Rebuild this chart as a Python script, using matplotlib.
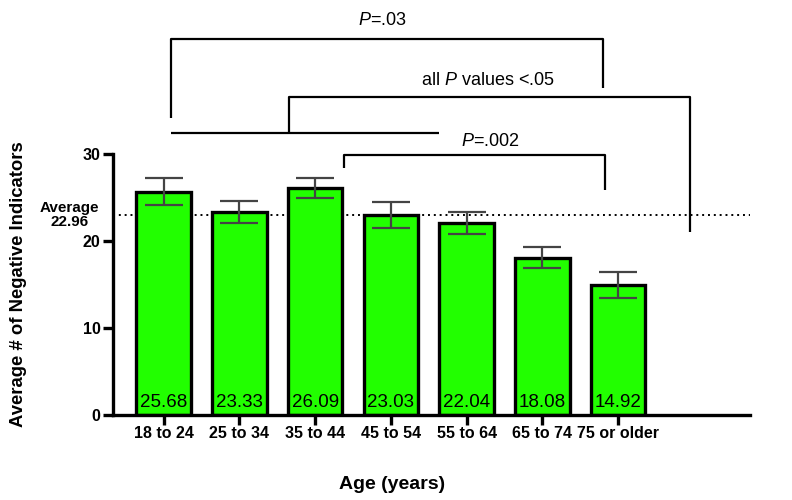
import numpy as np
import matplotlib.pyplot as plt

plt.rcParams['font.family'] = ['Liberation Sans', 'DejaVu Sans']
plt.rcParams['mathtext.fontset'] = 'custom'
plt.rcParams['mathtext.rm'] = 'Liberation Sans'
plt.rcParams['mathtext.it'] = 'Liberation Sans:italic'

# data
age_groups = ['18 to 24', '25 to 34', '35 to 44', '45 to 54', '55 to 64', '65 to 74', '75 or older']
means = [25.68, 23.33, 26.09, 23.03, 22.04, 18.08, 14.92]
sem = [1.55, 1.27, 1.2, 1.5, 1.25, 1.2, 1.5]
overall_avg = 22.96

fig = plt.figure(figsize=(7.92, 5.0), dpi=100)
ax = fig.add_axes([0.1427, 0.17, 0.804, 0.522])

x = np.arange(len(age_groups))
ax.bar(x, means, width=0.72, color='#22ff00', edgecolor='black', linewidth=2.4, zorder=2)
ax.errorbar(x, means, yerr=sem, fmt='none', ecolor='#444444', elinewidth=1.6,
            capsize=14, capthick=1.6, zorder=3)

for xi, m in zip(x, means):
    ax.text(xi, 0.5, f'{m:.2f}', ha='center', va='bottom', fontsize=13.5, zorder=4)

# overall average line
ax.axhline(overall_avg, color='black', linestyle=(0, (1, 2)), linewidth=1.4, zorder=1)
ax.text(-0.068, overall_avg, 'Average\n22.96', transform=ax.get_yaxis_transform(),
        ha='center', va='center', fontsize=11, fontweight='bold', linespacing=1.0)

ax.set_xlim(-0.67, 7.74)
ax.set_ylim(0, 30)
ax.set_yticks([0, 10, 20, 30])
ax.set_xticks(x)
ax.set_xticklabels(age_groups)

for side in ['top', 'right']:
    ax.spines[side].set_visible(False)
for side in ['left', 'bottom']:
    ax.spines[side].set_linewidth(2.4)
ax.tick_params(axis='both', width=2.4, length=7, labelsize=11.5, pad=2)
ax.tick_params(axis='x', pad=1)
for lab in ax.get_xticklabels() + ax.get_yticklabels():
    lab.set_fontweight('bold')

ax.set_ylabel('Average # of Negative Indicators', fontsize=13.3, fontweight='bold')
ax.yaxis.set_label_coords(-0.135, 0.5)
ax.set_xlabel('Age (years)', fontsize=14, fontweight='bold')
ax.xaxis.set_label_coords(0.438, -0.235)

# significance brackets: (x-points, y-points) in data coordinates
brackets = [
    ([0.09, 0.09, 5.80, 5.80], [34.1, 43.2, 43.2, 37.6]),
    ([0.09, 3.63], [32.4, 32.4]),
    ([1.66, 1.66, 6.95, 6.95], [32.4, 36.6, 36.6, 21.0]),
    ([2.38, 2.38, 5.83, 5.83], [28.4, 29.9, 29.9, 25.9]),
]
for bx, by in brackets:
    ax.plot(bx, by, color='black', linewidth=1.6, clip_on=False, solid_capstyle='butt')

ax.text(2.89, 45.4, r'$P$=.03', ha='center', va='center', fontsize=13)
ax.text(4.28, 38.5, r'all $P$ values <.05', ha='center', va='center', fontsize=13)
ax.text(4.31, 31.4, r'$P$=.002', ha='center', va='center', fontsize=13)

fig.savefig('out.png', dpi=100)
